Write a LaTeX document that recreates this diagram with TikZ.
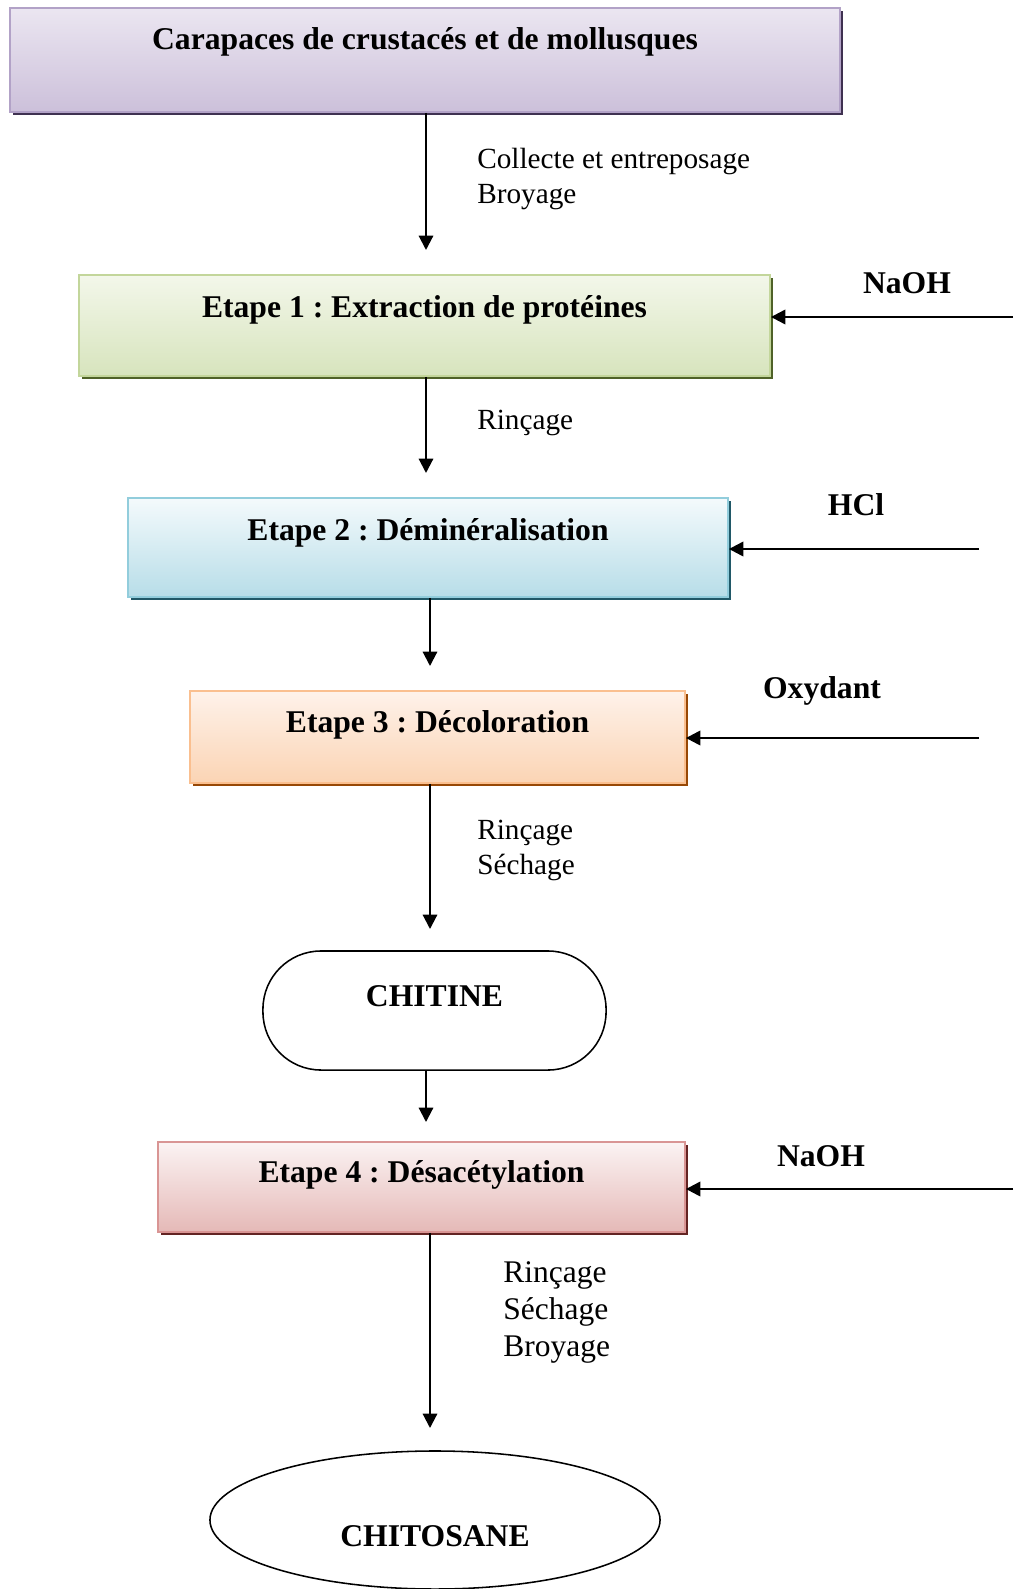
\documentclass[tikz,border=0pt]{standalone}
\usepackage{fontspec}
\setmainfont{Liberation Serif}
\usetikzlibrary{arrows.meta,shapes,shadows,positioning}
\frenchspacing

\definecolor{lilaTop}{HTML}{EBE6F1}
\definecolor{lilaBot}{HTML}{CCC0DA}
\definecolor{lilaLine}{HTML}{B2A2C7}
\definecolor{lilaShd}{HTML}{3F3151}
\definecolor{vertTop}{HTML}{F3F7EA}
\definecolor{vertBot}{HTML}{D7E4BD}
\definecolor{vertLine}{HTML}{C3D69B}
\definecolor{vertShd}{HTML}{4F6228}
\definecolor{bleuTop}{HTML}{F4FAFC}
\definecolor{bleuBot}{HTML}{B7DDE8}
\definecolor{bleuLine}{HTML}{92CDDC}
\definecolor{bleuShd}{HTML}{205867}
\definecolor{orTop}{HTML}{FEF2EA}
\definecolor{orBot}{HTML}{FBD4B4}
\definecolor{orLine}{HTML}{FABF8F}
\definecolor{orShd}{HTML}{974806}
\definecolor{rougeTop}{HTML}{FBF3F3}
\definecolor{rougeBot}{HTML}{E5B9B7}
\definecolor{rougeLine}{HTML}{D99594}
\definecolor{rougeShd}{HTML}{632423}

\begin{document}
\begin{tikzpicture}[x=0.025cm, y=-0.025cm, >={Triangle[length=0.36cm, width=0.36cm]},
  every node/.style={font=\fontsize{22.5}{27}\selectfont\bfseries},
  etape/.style={draw=#1Line, line width=1.2pt, top color=#1Top, bottom color=#1Bot,
                inner sep=0pt, text height=0.7em,
                drop shadow={shadow xshift=0.075cm, shadow yshift=-0.075cm,
                             fill=#1Shd, opacity=1}},
  prod/.style={draw, line width=1.1pt, fill=white, inner sep=0pt},
  note/.style={font=\fontsize{20.8}{24.9}\selectfont, align=left,
               anchor=north west, inner sep=0pt},
  flow/.style={->, line width=1.5pt},
  feed/.style={->, line width=1.6pt}]

  \useasboundingbox (0,0) rectangle (1013,1589);

  % ---- Etapes ----
  \node[etape=lila, minimum width=20.75cm, minimum height=2.6cm, text depth=0.775cm]
    (carap) at (425,60) {Carapaces de crustacés et de mollusques};
  \node[etape=vert, minimum width=17.275cm, minimum height=2.525cm, text depth=0.625cm]
    (etape1) at (424.5,325.5) {Etape 1 : Extraction de protéines};
  \node[etape=bleu, minimum width=15cm, minimum height=2.475cm, text depth=0.575cm]
    (etape2) at (428,547.5) {Etape 2 : Déminéralisation};
  \node[etape=or, minimum width=12.375cm, minimum height=2.3cm, text depth=0.45cm]
    (etape3) at (437.5,737) {Etape 3 : Décoloration};
  \node[etape=rouge, minimum width=13.175cm, minimum height=2.25cm, text depth=0.45cm]
    (etape4) at (421.5,1187) {Etape 4 : Désacétylation};

  % ---- Produits ----
  \node[prod, rounded corners=1.45cm, minimum width=8.575cm, minimum height=2.975cm,
        text height=0.7em, text depth=0.425cm]
    (chitine) at (434.5,1010.5) {CHITINE};
  \node[prod, ellipse, minimum width=11.25cm, minimum height=3.45cm,
        text height=1.32cm, text depth=0pt]
    (chitosane) at (435,1520) {CHITOSANE};

  % ---- Reactifs ----
  \node (naoh1) at (907,283) {NaOH};
  \node (hcl)   at (856,505) {HCl};
  \node (oxyd)  at (822,691) {Oxydant};
  \node (naoh2) at (821,1156) {NaOH};

  \coordinate (in1) at (1013,317);
  \coordinate (in2) at (979,549);
  \coordinate (in3) at (979,738);
  \coordinate (in4) at (1013,1189);

  \draw[feed] (in1) -- (in1 -| etape1.east);
  \draw[feed] (in2) -- (in2 -| etape2.east);
  \draw[feed] (in3) -- (in3 -| etape3.east);
  \draw[feed] (in4) -- (in4 -| etape4.east);

  % ---- Flux principal ----
  \coordinate (a1) at (426,250);
  \coordinate (a2) at (426,473);
  \coordinate (a3) at (430,666);
  \coordinate (a4) at (430,929);
  \coordinate (a5) at (426,1122);
  \coordinate (a6) at (430,1428);

  \draw[flow] (a1 |- carap.south)   -- (a1);
  \draw[flow] (a2 |- etape1.south)  -- (a2);
  \draw[flow] (a3 |- etape2.south)  -- (a3);
  \draw[flow] (a4 |- etape3.south)  -- (a4);
  \draw[flow] (a5 |- chitine.south) -- (a5);
  \draw[flow] (a6 |- etape4.south)  -- (a6);

  % ---- Operations ----
  \node[note] (op1) at (477,148) {Collecte et entreposage\\Broyage};
  \node[note] (op2) at (477,410) {Rinçage};
  \node[note] (op3) at (477,820) {Rinçage\\Séchage};
  \node[note, font=\fontsize{22.4}{26.3}\selectfont] (op4) at (503,1261)
    {Rinçage\\Séchage\\Broyage};
\end{tikzpicture}
\end{document}
